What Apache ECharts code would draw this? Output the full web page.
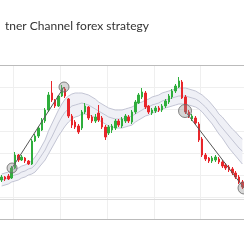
<!DOCTYPE html>
<html>
<head>
<meta charset="utf-8">
<style>html,body{margin:0;padding:0;background:#fff;}#c{width:244px;height:244px;}</style>
<script src="https://cdn.jsdelivr.net/npm/echarts@6/dist/echarts.min.js"></script>
</head>
<body>
<div id="c"></div>
<script>
const titleText = 'tner Channel forex strategy';
// [open, close, low, high]
const candles = [
[1.0819,1.0822,1.0817,1.0824],[1.0822,1.0820,1.0818,1.0823],[1.0823,1.0820,1.0819,1.0825],[1.0821,1.0831,1.0820,1.0833],
[1.0831,1.0844,1.0830,1.0847],[1.0844,1.0839,1.0837,1.0845],[1.0839,1.0842,1.0838,1.0844],[1.0841,1.0838,1.0836,1.0842],
[1.0838,1.0835,1.0834,1.0839],[1.0835,1.0858,1.0834,1.0860],[1.0858,1.0863,1.0857,1.0865],[1.0863,1.0871,1.0861,1.0873],
[1.0869,1.0879,1.0868,1.0881],[1.0878,1.0889,1.0876,1.0891],[1.0889,1.0904,1.0887,1.0907],[1.0906,1.0899,1.0897,1.0918],
[1.0899,1.0893,1.0891,1.0900],[1.0893,1.0903,1.0892,1.0904],[1.0903,1.0911,1.0902,1.0914],[1.0910,1.0903,1.0901,1.0912],
[1.0900,1.0883,1.0881,1.0901],[1.0883,1.0874,1.0871,1.0885],[1.0877,1.0872,1.0870,1.0879],[1.0873,1.0867,1.0865,1.0875],
[1.0871,1.0887,1.0869,1.0889],[1.0887,1.0893,1.0885,1.0896],[1.0892,1.0881,1.0879,1.0893],[1.0882,1.0878,1.0876,1.0884],
[1.0878,1.0882,1.0876,1.0885],[1.0886,1.0879,1.0877,1.0894],[1.0881,1.0872,1.0870,1.0883],[1.0872,1.0862,1.0859,1.0874],
[1.0866,1.0872,1.0864,1.0874],[1.0869,1.0873,1.0866,1.0875],[1.0871,1.0878,1.0869,1.0880],[1.0878,1.0874,1.0872,1.0880],
[1.0873,1.0880,1.0871,1.0882],[1.0878,1.0883,1.0876,1.0885],[1.0882,1.0878,1.0876,1.0884],[1.0877,1.0887,1.0875,1.0889],
[1.0887,1.0897,1.0885,1.0899],[1.0896,1.0904,1.0895,1.0906],[1.0902,1.0907,1.0900,1.0911],[1.0906,1.0892,1.0890,1.0908],
[1.0893,1.0887,1.0885,1.0894],[1.0886,1.0889,1.0884,1.0891],[1.0888,1.0891,1.0886,1.0893],[1.0891,1.0889,1.0887,1.0893],
[1.0889,1.0893,1.0887,1.0895],[1.0893,1.0898,1.0891,1.0900],[1.0897,1.0903,1.0895,1.0905],[1.0902,1.0908,1.0900,1.0910],
[1.0908,1.0913,1.0906,1.0915],[1.0912,1.0918,1.0911,1.0922],[1.0917,1.0901,1.0900,1.0919],[1.0902,1.0887,1.0885,1.0904],
[1.0887,1.0883,1.0881,1.0889],[1.0880,1.0883,1.0878,1.0885],[1.0881,1.0876,1.0874,1.0883],[1.0875,1.0859,1.0857,1.0877],
[1.0860,1.0844,1.0842,1.0862],[1.0844,1.0840,1.0838,1.0846],[1.0841,1.0838,1.0836,1.0842],[1.0838,1.0841,1.0836,1.0843],
[1.0839,1.0842,1.0837,1.0844],[1.0840,1.0837,1.0835,1.0842],[1.0837,1.0833,1.0831,1.0839],[1.0834,1.0831,1.0829,1.0836],
[1.0832,1.0829,1.0827,1.0834],[1.0830,1.0826,1.0824,1.0832],[1.0826,1.0822,1.0820,1.0828],[1.0822,1.0817,1.0815,1.0824],
[1.0817,1.0812,1.0810,1.0819]
];
const upperBand = [1.0825,1.0826,1.0827,1.0829,1.0830,1.0831,1.0833,1.0834,1.0836,1.0838,1.0842,1.0847,1.0853,1.0859,1.0868,1.0875,
1.0882,1.0889,1.0895,1.0900,1.0903,1.0905,1.0906,1.0906,1.0906,1.0905,1.0904,1.0902,1.0900,1.0897,1.0895,1.0893,
1.0891,1.0890,1.0889,1.0889,1.0889,1.0890,1.0891,1.0892,1.0894,1.0896,1.0897,1.0899,1.0900,1.0902,1.0903,1.0904,
1.0906,1.0907,1.0908,1.0909,1.0910,1.0911,1.0911,1.0911,1.0910,1.0909,1.0908,1.0906,1.0904,1.0901,1.0898,1.0894,
1.0890,1.0885,1.0882,1.0878,1.0874,1.0870,1.0867,1.0863,1.0860];
const middleBand = [1.0819,1.0820,1.0821,1.0823,1.0824,1.0825,1.0827,1.0828,1.0830,1.0831,1.0834,1.0839,1.0844,1.0849,1.0856,1.0862,
1.0869,1.0876,1.0882,1.0887,1.0890,1.0893,1.0894,1.0895,1.0896,1.0895,1.0894,1.0892,1.0890,1.0888,1.0886,1.0884,
1.0882,1.0881,1.0880,1.0880,1.0880,1.0881,1.0882,1.0883,1.0885,1.0887,1.0889,1.0891,1.0892,1.0894,1.0895,1.0896,
1.0898,1.0899,1.0900,1.0901,1.0902,1.0903,1.0903,1.0903,1.0902,1.0901,1.0900,1.0898,1.0895,1.0892,1.0888,1.0884,
1.0880,1.0875,1.0871,1.0867,1.0863,1.0859,1.0855,1.0851,1.0848];
const lowerBand = [1.0813,1.0814,1.0815,1.0817,1.0818,1.0819,1.0821,1.0822,1.0824,1.0825,1.0827,1.0831,1.0835,1.0839,1.0845,1.0851,
1.0857,1.0863,1.0868,1.0873,1.0877,1.0880,1.0882,1.0883,1.0885,1.0885,1.0884,1.0883,1.0881,1.0879,1.0877,1.0875,
1.0873,1.0872,1.0871,1.0871,1.0871,1.0872,1.0873,1.0874,1.0877,1.0879,1.0881,1.0883,1.0884,1.0886,1.0887,1.0888,
1.0890,1.0891,1.0892,1.0893,1.0894,1.0895,1.0895,1.0895,1.0894,1.0893,1.0892,1.0890,1.0887,1.0883,1.0879,1.0875,
1.0870,1.0865,1.0861,1.0856,1.0851,1.0847,1.0843,1.0839,1.0835];
// trend lines: [index position, price]
const trendUp = [[3.1,1.0831],[18.65,1.0912]];
const trendDown = [[54.86,1.0888],[72.5,1.0811]];
// touch points: [index position, price, size]
const touchPoints = [[3.1,1.0831,10],[18.65,1.0912,10],[54.86,1.0888,13],[72.5,1.0811,12]];
const baseLineLevel = 1.0792;
const categories = candles.map((d, i) => String(i + 1));

const chart = echarts.init(document.getElementById('c'), null, {renderer: 'canvas'});
const bandWidth = upperBand.map((u, i) => +(u - lowerBand[i]).toFixed(4));
const bandLine = {color: '#c3c5d4', width: 1};
chart.setOption({
  animation: false,
  backgroundColor: '#fff',
  title: {
    text: titleText, left: 0, top: 15,
    textStyle: {fontFamily: 'Lato', fontSize: 12, fontWeight: 'normal', color: '#333'}
  },
  grid: {left: 0, right: 0, top: 65, bottom: 25},
  xAxis: [
    {type: 'category', data: categories, boundaryGap: true,
     axisLine: {show: true, lineStyle: {color: '#bbb', width: 1}},
     axisTick: {show: false}, axisLabel: {show: false},
     splitLine: {show: true, interval: (idx) => idx % 14 === 4, lineStyle: {color: '#efefef', width: 1}}},
    {type: 'value', min: -0.5, max: candles.length - 0.5, position: 'top',
     axisLine: {show: true, onZero: false, lineStyle: {color: '#bbb', width: 1}},
     axisTick: {show: false}, axisLabel: {show: false}, splitLine: {show: false}}
  ],
  yAxis: {type: 'value', min: 1.078, max: 1.0934, interval: 0.0022, scale: true,
    axisLine: {show: false}, axisTick: {show: false}, axisLabel: {show: false},
    splitLine: {show: true, lineStyle: {color: '#efefef', width: 1}}},
  series: [
    {type: 'line', data: lowerBand, stack: 'band', symbol: 'none', lineStyle: {opacity: 0}, silent: true, z: 1},
    {type: 'line', data: bandWidth, stack: 'band', symbol: 'none', lineStyle: {opacity: 0},
     areaStyle: {color: '#eff0f6', opacity: 1}, silent: true, z: 1},
    {type: 'line', data: upperBand, symbol: 'none', lineStyle: bandLine, z: 2},
    {type: 'line', data: middleBand, symbol: 'none', lineStyle: bandLine, z: 2},
    {type: 'line', data: lowerBand, symbol: 'none', lineStyle: bandLine, z: 2},
    {type: 'candlestick', data: candles, barWidth: 2, z: 3,
     itemStyle: {color: '#2fae3c', color0: '#e8262b', borderColor: '#2fae3c', borderColor0: '#e8262b', borderWidth: 1},
     markLine: {silent: true, symbol: 'none', label: {show: false},
       lineStyle: {color: '#dcdcdc', type: 'solid', width: 1}, data: [{yAxis: baseLineLevel}]}},
    {type: 'line', xAxisIndex: 1, data: trendUp, symbol: 'none', lineStyle: {color: '#555', width: 1}, z: 4},
    {type: 'line', xAxisIndex: 1, data: trendDown, symbol: 'none', lineStyle: {color: '#555', width: 1}, z: 4},
    {type: 'scatter', xAxisIndex: 1, data: touchPoints, symbolSize: (v) => v[2],
     itemStyle: {color: 'rgba(140,140,140,0.45)', borderColor: '#666', borderWidth: 1}, z: 5}
  ]
});
</script>
</body>
</html>
